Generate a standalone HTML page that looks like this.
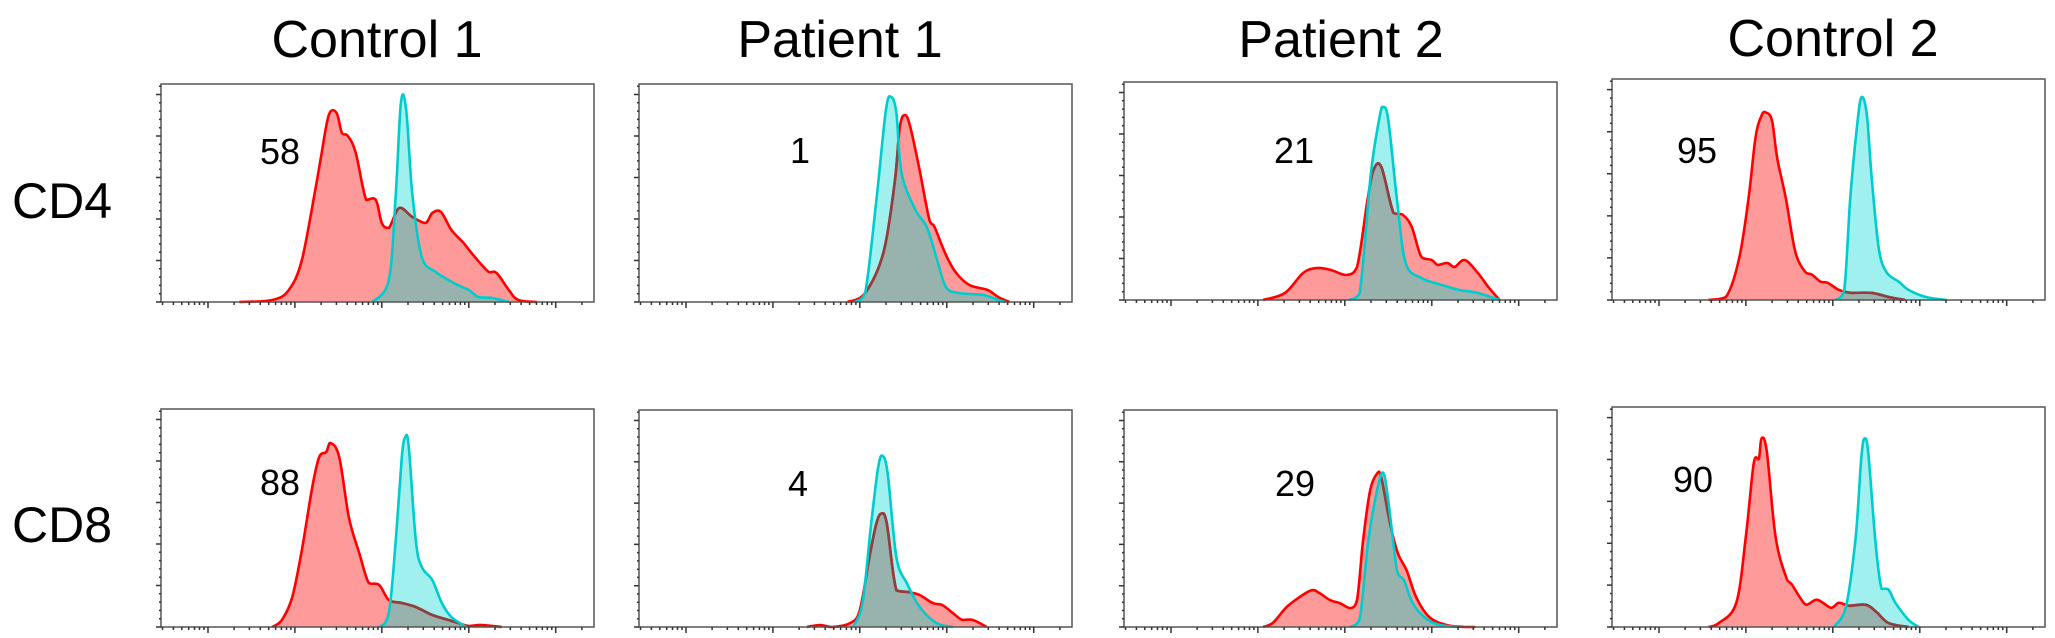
<!DOCTYPE html>
<html><head><meta charset="utf-8"><style>
html,body{margin:0;padding:0;background:#fff;}
svg{display:block;}
text{font-family:"Liberation Sans",Arial,sans-serif;fill:#000;}
</style></head><body>
<svg id="chart" width="2055" height="638" viewBox="0 0 2055 638" xmlns="http://www.w3.org/2000/svg">
<text x="377" y="57" font-size="52" text-anchor="middle">Control 1</text>
<text x="840" y="57" font-size="52" text-anchor="middle">Patient 1</text>
<text x="1341" y="57" font-size="52" text-anchor="middle">Patient 2</text>
<text x="1833" y="56" font-size="52" text-anchor="middle">Control 2</text>
<text x="12" y="218" font-size="50">CD4</text>
<text x="12" y="542" font-size="50">CD8</text>
<g id="panels"></g>
</svg>
<script>
// data arrays: u = log10 decade position relative to first major tick; h = event count (arbitrary units)
const c1cd4RedU=[0.36,0.74,0.93,1.08,1.24,1.30,1.39,1.48,1.54,1.61,1.70,1.82,1.93,2.0,2.08,2.2,2.35,2.5,2.58,2.68,2.8,2.94,3.06,3.23,3.32,3.46,3.57,3.78];
const c1cd4RedH=[0,2,12,42,115,145,187,189,169,166,149,102,102,79,74,94,85,79,89,90,72,59,46,30,29,12,2,0];
const c1cd4CyanU=[1.89,2.08,2.16,2.22,2.28,2.35,2.46,2.62,2.85,3.0,3.11,3.27,3.46];
const c1cd4CyanH=[0,22,108,200,192,108,45,30,18,12,5,4,0];
const p1cd4RedU=[1.86,2.06,2.27,2.40,2.46,2.52,2.58,2.68,2.80,2.86,2.98,3.10,3.26,3.47,3.59,3.72];
const p1cd4RedH=[0,9,49,119,175,187,175,135,82,75,49,30,17,12,5,0];
const p1cd4CyanU=[1.94,2.06,2.19,2.30,2.36,2.42,2.48,2.64,2.77,2.89,2.99,3.14,3.42,3.59,3.67];
const p1cd4CyanH=[0,9,102,192,205,189,129,92,75,42,15,9,7,2,0];
const p2cd4RedU=[1.06,1.31,1.52,1.68,1.84,2.01,2.14,2.26,2.33,2.42,2.56,2.67,2.77,2.88,3.0,3.07,3.18,3.26,3.38,3.53,3.65,3.78];
const p2cd4RedH=[0,7,27,32,30,25,33,100,130,133,87,85,73,43,40,35,37,33,40,27,13,0];
const p2cd4CyanU=[2.05,2.17,2.30,2.40,2.44,2.50,2.60,2.70,2.88,3.12,3.32,3.53,3.78];
const p2cd4CyanH=[0,7,127,183,193,180,100,37,22,15,10,7,0];
const c2cd4RedU=[0.57,0.77,0.92,1.03,1.11,1.18,1.23,1.30,1.36,1.46,1.57,1.69,1.76,1.86,1.94,2.07,2.22,2.45,2.64,2.83];
const c2cd4RedH=[0,3,40,100,160,182,185,177,140,100,47,27,25,18,17,10,7,7,3,0];
const c2cd4CyanU=[2.03,2.13,2.20,2.28,2.33,2.39,2.45,2.53,2.62,2.76,2.87,3.07,3.31];
const c2cd4CyanH=[0,10,100,173,200,183,117,50,27,18,10,3,0];
const c1cd8RedU=[0.74,0.85,0.97,1.08,1.20,1.28,1.36,1.41,1.51,1.62,1.74,1.85,1.97,2.08,2.23,2.39,2.58,2.77,3.0,3.15,3.38];
const c1cd8RedH=[0,7,30,77,140,170,175,184,170,110,74,44,42,27,24,20,12,7,1,2,0];
const c1cd8CyanU=[1.97,2.08,2.16,2.23,2.27,2.31,2.39,2.46,2.58,2.69,2.80,2.97];
const c1cd8CyanH=[0,14,87,170,190,180,87,60,47,24,10,0];
const p1cd8RedU=[1.39,1.54,1.68,1.89,2.0,2.11,2.19,2.25,2.31,2.42,2.57,2.69,2.84,2.95,3.07,3.18,3.30,3.46];
const p1cd8RedH=[0,2,0,4,17,70,104,114,104,37,35,32,24,22,14,7,7,0];
const p1cd8CyanU=[1.92,2.03,2.13,2.21,2.26,2.32,2.42,2.54,2.69,2.88,3.07];
const p1cd8CyanH=[0,24,104,160,172,154,70,44,20,4,0];
const p2cd8RedU=[1.06,1.17,1.33,1.48,1.62,1.71,1.83,1.94,2.06,2.14,2.21,2.29,2.37,2.42,2.52,2.61,2.71,2.82,2.97,3.17,3.38,3.50];
const p2cd8RedH=[0,4,20,30,37,34,27,24,19,27,87,137,154,150,104,74,57,30,10,2,0,0];
const p2cd8CyanU=[2.06,2.17,2.27,2.37,2.44,2.50,2.60,2.68,2.78,2.94,3.10,3.29];
const p2cd8CyanH=[0,8,87,137,155,127,57,47,24,8,2,0];
const c2cd8RedU=[0.57,0.69,0.89,1.0,1.09,1.15,1.18,1.24,1.34,1.46,1.53,1.69,1.82,1.98,2.07,2.19,2.38,2.5,2.64,2.87];
const c2cd8RedH=[0,4,24,90,162,167,187,174,90,50,42,22,27,19,24,21,22,15,4,0];
const c2cd8CyanU=[2.01,2.15,2.26,2.33,2.37,2.41,2.49,2.56,2.64,2.72,2.87,2.99];
const c2cd8CyanH=[0,20,87,170,187,170,84,38,37,24,7,0];
const percentLabels=["58","1","21","95","88","4","29","90"];
const panelNames=["control-1-cd4","patient-1-cd4","patient-2-cd4","control-2-cd4","control-1-cd8","patient-1-cd8","patient-2-cd8","control-2-cd8"];

const series=[
 [c1cd4RedU,c1cd4RedH,c1cd4CyanU,c1cd4CyanH],[p1cd4RedU,p1cd4RedH,p1cd4CyanU,p1cd4CyanH],
 [p2cd4RedU,p2cd4RedH,p2cd4CyanU,p2cd4CyanH],[c2cd4RedU,c2cd4RedH,c2cd4CyanU,c2cd4CyanH],
 [c1cd8RedU,c1cd8RedH,c1cd8CyanU,c1cd8CyanH],[p1cd8RedU,p1cd8RedH,p1cd8CyanU,p1cd8CyanH],
 [p2cd8RedU,p2cd8RedH,p2cd8CyanU,p2cd8CyanH],[c2cd8RedU,c2cd8RedH,c2cd8CyanU,c2cd8CyanH]];
// layout (not data)
const lefts=[161,639,1124,1612];
const tops=[[84,302],[84,302],[82,300],[79,300],[409,627],[410,627],[410,627],[407,627]];
const labelPos=[[260,164],[790,163],[1274,163],[1677,163],[260,495],[788,496],[1275,496],[1673,492]];
const W=433, U0=-0.54, U1=4.44, YMAX=218;
const NS="http://www.w3.org/2000/svg";
const root=document.getElementById('panels');
function mk(tag,attrs,parent){const e=document.createElementNS(NS,tag);for(const k in attrs)e.setAttribute(k,attrs[k]);parent.appendChild(e);return e;}
function smooth(pts){
  let d="M"+pts[0][0].toFixed(1)+","+pts[0][1].toFixed(1);
  for(let i=0;i<pts.length-1;i++){
    const p0=pts[Math.max(0,i-1)],p1=pts[i],p2=pts[i+1],p3=pts[Math.min(pts.length-1,i+2)];
    const c1x=p1[0]+(p2[0]-p0[0])/6,c1y=Math.min(p1[1]+(p2[1]-p0[1])/6,Math.max(p1[1],p2[1]));
    const c2x=p2[0]-(p3[0]-p1[0])/6,c2y=Math.min(p2[1]-(p3[1]-p1[1])/6,Math.max(p1[1],p2[1]));
    d+=" C"+c1x.toFixed(1)+","+c1y.toFixed(1)+" "+c2x.toFixed(1)+","+c2y.toFixed(1)+" "+p2[0].toFixed(1)+","+p2[1].toFixed(1);
  }
  return d;
}
for(let p=0;p<8;p++){
  const col=p%4, L=lefts[col], T=tops[p][0], B=tops[p][1], H=B-T;
  const xs=u=>L+(u-U0)/(U1-U0)*W;
  const ys=v=>B-v/YMAX*H;
  const g=mk('g',{},root);
  
  
  const s=series[p];
  const redPts=s[0].map((u,i)=>[xs(u),ys(s[1][i])]);
  const cyPts=s[2].map((u,i)=>[xs(u),ys(s[3][i])]);
  const redLine=smooth(redPts), cyLine=smooth(cyPts);
  const redArea=redLine+" L"+redPts[redPts.length-1][0].toFixed(1)+","+B+" L"+redPts[0][0].toFixed(1)+","+B+" Z";
  const cyArea=cyLine+" L"+cyPts[cyPts.length-1][0].toFixed(1)+","+B+" L"+cyPts[0][0].toFixed(1)+","+B+" Z";
  const defs=mk('defs',{},g);
  const cpR=mk('clipPath',{id:'cr'+p},defs); mk('path',{d:redArea},cpR);
  const cpC=mk('clipPath',{id:'cc'+p},defs); mk('path',{d:cyArea},cpC);
  const rf=mk('path',{d:redArea,fill:'#ff9a9a'},g);
  
  
  const cf=mk('path',{d:cyArea,fill:'#9ff0ee'},g);
  
  
  const ov=mk('path',{d:cyArea,fill:'#98b3ae','clip-path':'url(#cr'+p+')'},g);
  
  
  const rl=mk('path',{d:redLine,fill:'none',stroke:'#ff0000','stroke-width':2.6,'stroke-linejoin':'round'},g);
  
  
  const rl2=mk('path',{d:redLine,fill:'none',stroke:'#8e4040','stroke-width':2.6,'clip-path':'url(#cc'+p+')'},g);
  
  
  const cl=mk('path',{d:cyLine,fill:'none',stroke:'#00cccc','stroke-width':2.6,'stroke-linejoin':'round'},g);
  
  
  const fr=mk('rect',{x:L,y:T,width:W,height:H,fill:'none',stroke:'#555','stroke-width':1.5},g);
  
  
  // x ticks
  let td="";
  for(let d=-1;d<=4;d++){
    for(let k=1;k<=9;k++){
      const u=d+Math.log10(k);
      if(u<U0||u>U1)continue;
      const x=xs(u);
      td+="M"+x.toFixed(1)+","+B+" v"+(k===1?6:3)+" ";
    }
  }
  // y ticks
  for(let v=0;v<=YMAX;v+=41.5/5){
    const y=ys(v); const major=Math.abs((v/41.5)-Math.round(v/41.5))<0.01;
    td+="M"+L+","+y.toFixed(1)+" h"+(major?-5:-2)+" ";
  }
  const tk=mk('path',{d:td,stroke:'#333','stroke-width':1.5,fill:'none'},g);
  
  
  const lb=mk('text',{x:labelPos[p][0],y:labelPos[p][1],'font-size':36},g);
  lb.textContent=percentLabels[p];
  
  
}
</script>
</body></html>
